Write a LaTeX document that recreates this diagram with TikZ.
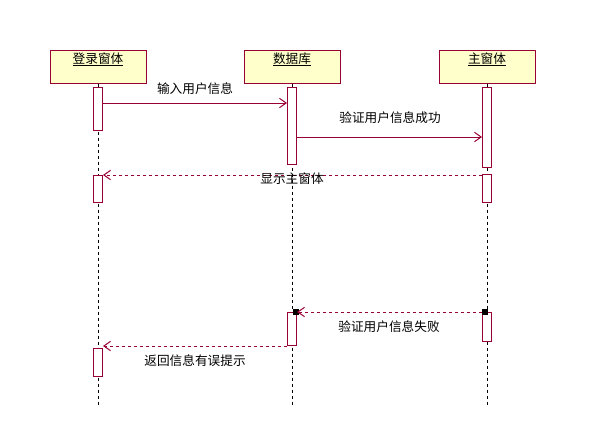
\documentclass[tikz,border=0pt]{standalone}
\usepackage{fontspec}
\setmainfont{Noto Sans CJK SC}
\usetikzlibrary{arrows.meta,calc}
\definecolor{uml}{HTML}{990033}
\definecolor{headfill}{HTML}{FFFFCC}
\newcommand{\undl}[1]{\setbox0\hbox{#1}\rlap{\usebox0}\raisebox{-1.8pt}{\rule{\wd0}{0.75pt}}}
\begin{document}
\begin{tikzpicture}[x=0.75pt,y=-0.75pt,font=\fontsize{9.5pt}{10.5pt}\selectfont,
  head/.style={draw=uml,fill=headfill,line width=0.75pt,minimum width=72pt,inner xsep=0pt,inner ysep=0pt,text height=9.5pt,text depth=14.5pt},
  bar/.style={draw=uml,fill=white,line width=0.75pt,minimum width=6.75pt,inner sep=0pt,anchor=north},
  life/.style={black,line width=0.75pt,dash pattern=on 2.25pt off 2.25pt},
  msg/.style={uml,line width=0.75pt,-{Straight Barb[length=5pt,width=7pt]}},
  ret/.style={msg,dash pattern=on 2.25pt off 2.25pt},
  lbl/.style={inner sep=0pt},
  sq/.style={fill=black,draw=none,minimum size=4.5pt,inner sep=0pt}]
\useasboundingbox (0,0) rectangle (605,428);
% heads
\node[head] (HL) at (98,67) {\undl{登录窗体}};
\node[head] (HD) at (292,67) {\undl{数据库}};
\node[head] (HM) at (487,67) {\undl{主窗体}};
% lifeline ends
\coordinate (EL) at (98,405);
\coordinate (ED) at (292,405);
\coordinate (EM) at (487,405);
\draw[life] (HL.south) -- (EL);
\draw[life] (HD.south) -- (ED);
\draw[life] (HM.south) -- (EM);
% activation bars
\node[bar,minimum height=32.25pt] (L1) at (98,87) {};
\node[bar,minimum height=20.25pt] (L2) at (98,175) {};
\node[bar,minimum height=21pt] (L3) at (98,348) {};
\node[bar,minimum height=57.75pt] (D1) at (292,87) {};
\node[bar,minimum height=24.75pt] (D2) at (292,312) {};
\node[bar,minimum height=60pt] (M1) at (487,87) {};
\node[bar,minimum height=21pt] (M2) at (487,174) {};
\node[bar,minimum height=21.75pt] (M3) at (487,312) {};
% messages
\coordinate (m1) at ($(L1.north east)+(0,16)$);
\draw[msg] (m1) -- (m1 -| D1.west);
\coordinate (m2) at ($(D1.north east)+(0,50)$);
\draw[msg] (m2) -- (m2 -| M1.west);
\coordinate (m3) at ($(M2.north west)+(0,1)$);
\draw[ret] (m3) -- (m3 -| L2.east);
\node[sq] (S1) at ($(M3.north west)+(3,0)$) {};
\node[sq] (S2) at ($(D2.north east)+(-1.5,0)$) {};
\draw[ret] (S1.west) -- (D2.north east);
\coordinate (m5) at ($(D2.north west)+(0,34)$);
\draw[ret] (m5) -- (m5 -| L3.east);
% labels
\node[lbl] (t1) at (195,89) {输入用户信息};
\node[lbl] (t2) at (390,118) {验证用户信息成功};
\node[lbl] (t3) at (292,179) {显示主窗体};
\node[lbl] (t4) at (389,327) {验证用户信息失败};
\node[lbl] (t5) at (195,361) {返回信息有误提示};
\end{tikzpicture}
\end{document}
